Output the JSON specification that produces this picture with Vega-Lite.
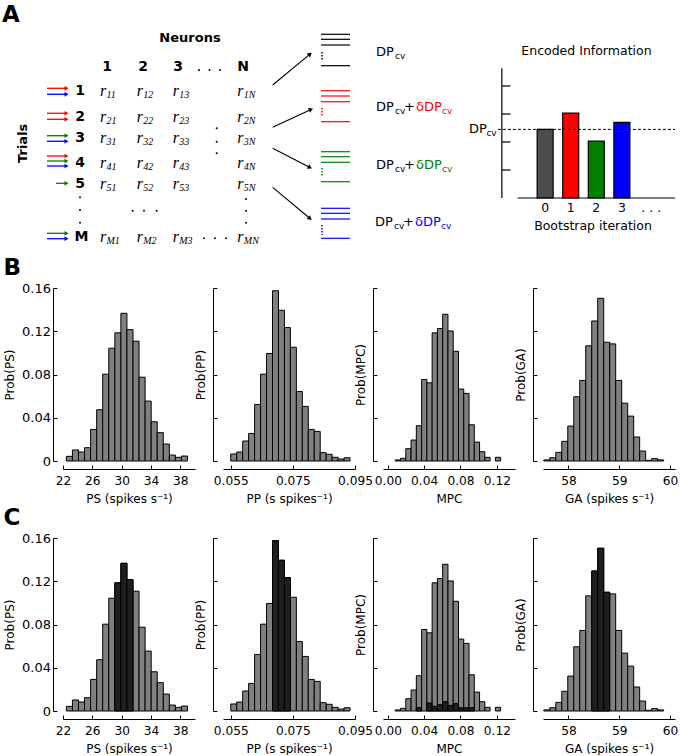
{
"$schema": "https://vega.github.io/schema/vega-lite/v6.json",
"padding": {"left": 2, "top": 0, "right": 0, "bottom": 0},
"background": "white",
"config": {
  "font": "DejaVu Sans",
  "view": {"stroke": null},
  "axis": {"grid": false, "domainColor": "black", "tickColor": "black", "labelColor": "black", "titleColor": "black", "labelFontSize": 13, "titleFontSize": 12, "titleFontWeight": "normal", "tickSize": -4, "domainWidth": 1, "tickWidth": 1, "labelFont": "DejaVu Sans", "titleFont": "DejaVu Sans", "labelFlush": false, "labelOverlap": false},
  "axisX": {"offset": 8, "labelPadding": 9, "titlePadding": 7, "labelFontSize": 12.2},
  "axisY": {"offset": 10, "labelPadding": 6.5, "titlePadding": 5},
  "title": {"font": "DejaVu Sans", "color": "black"}
},
"datasets": {
  "heads": [{"t":"1","x":107,"y":67},{"t":"2","x":143,"y":67},{"t":"3","x":178,"y":67},{"t":"N","x":243,"y":67},{"t":"1","x":80,"y":90.7},{"t":"2","x":80,"y":116.7},{"t":"3","x":80,"y":138.3},{"t":"4","x":80,"y":162.7},{"t":"5","x":80,"y":184},{"t":"M","x":81.5,"y":237.3}],
  "dots": [{"x":199,"y":70},{"x":209.5,"y":70},{"x":220,"y":70},{"x":80,"y":197.3},{"x":80,"y":210},{"x":80,"y":222.7},{"x":246,"y":199},{"x":246,"y":210.7},{"x":246,"y":222.7},{"x":216.7,"y":128.3},{"x":216.7,"y":141.7},{"x":216.7,"y":153.3},{"x":132.7,"y":210.7},{"x":144,"y":210.7},{"x":156.7,"y":210.7},{"x":204,"y":238.3},{"x":215,"y":238.3},{"x":226,"y":238.3}],
  "cells": [
    {"x":100,"y":90.7,"s":"11"},{"x":136.7,"y":90.7,"s":"12"},{"x":172.7,"y":90.7,"s":"13"},{"x":237.3,"y":90.7,"s":"1N"},
    {"x":100,"y":116.7,"s":"21"},{"x":136.7,"y":116.7,"s":"22"},{"x":172.7,"y":116.7,"s":"23"},{"x":237.3,"y":116.7,"s":"2N"},
    {"x":100,"y":138.3,"s":"31"},{"x":136.7,"y":138.3,"s":"32"},{"x":172.7,"y":138.3,"s":"33"},{"x":237.3,"y":138.3,"s":"3N"},
    {"x":100,"y":162.7,"s":"41"},{"x":136.7,"y":162.7,"s":"42"},{"x":172.7,"y":162.7,"s":"43"},{"x":237.3,"y":162.7,"s":"4N"},
    {"x":100,"y":184,"s":"51"},{"x":136.7,"y":184,"s":"52"},{"x":172.7,"y":184,"s":"53"},{"x":237.3,"y":184,"s":"5N"},
    {"x":100,"y":237.3,"s":"M1"},{"x":136.7,"y":237.3,"s":"M2"},{"x":172.7,"y":237.3,"s":"M3"},{"x":237.3,"y":237.3,"s":"MN"}
  ],
  "tarrows": [{"x":47,"x2":66.5,"y":88.3,"g":"r"},{"x":47,"x2":66.5,"y":94.3,"g":"b"},{"x":47,"x2":66.5,"y":113.3,"g":"r"},{"x":47,"x2":66.5,"y":119.3,"g":"r"},{"x":47,"x2":66.5,"y":135.7,"g":"g"},{"x":47,"x2":66.5,"y":141.3,"g":"b"},{"x":47,"x2":66.5,"y":156,"g":"r"},{"x":47,"x2":66.5,"y":161,"g":"g"},{"x":47,"x2":66.5,"y":166,"g":"b"},{"x":56,"x2":66.5,"y":183.3,"g":"g"},{"x":47,"x2":66.5,"y":233.3,"g":"g"},{"x":47,"x2":66.5,"y":238.7,"g":"b"}],
  "darrows": [{"x":272.7,"y":85,"x2":310,"y2":54.1,"a":-39.6},{"x":272.7,"y":127.3,"x2":311,"y2":109.4,"a":-25},{"x":272.7,"y":148.3,"x2":310,"y2":167.4,"a":27},{"x":272.7,"y":187.3,"x2":310,"y2":218.5,"a":40}],
  "hlines": [{"x":321,"x2":350,"y":34.3,"g":"k"},{"x":321,"x2":350,"y":39.3,"g":"k"},{"x":321,"x2":350,"y":45,"g":"k"},{"x":321,"x2":350,"y":65.7,"g":"k"},
    {"x":321,"x2":350,"y":90.7,"g":"r"},{"x":321,"x2":350,"y":96,"g":"r"},{"x":321,"x2":350,"y":101.7,"g":"r"},{"x":321,"x2":350,"y":121.7,"g":"r"},
    {"x":321,"x2":350,"y":151.7,"g":"g"},{"x":321,"x2":350,"y":156.7,"g":"g"},{"x":321,"x2":350,"y":162.3,"g":"g"},{"x":321,"x2":350,"y":181.7,"g":"g"},
    {"x":321,"x2":350,"y":208.3,"g":"b"},{"x":321,"x2":350,"y":213.3,"g":"b"},{"x":321,"x2":350,"y":219,"g":"b"},{"x":321,"x2":350,"y":238.3,"g":"b"}],
  "vdots": [{"x":322,"y":52,"y2":60,"g":"k"},{"x":322,"y":108,"y2":117,"g":"r"},{"x":322,"y":168,"y2":177,"g":"g"},{"x":322,"y":225,"y2":235,"g":"b"}],
  "dplab": [{"x":376,"y":51.7,"g":"k"},{"x":376,"y":107.3,"g":"r"},{"x":376,"y":165,"g":"g"},{"x":375,"y":221.7,"g":"b"}],
  "info": [{"it":0,"v":2.45,"g":"dk"},{"it":1,"v":3.03,"g":"r"},{"it":2,"v":2.03,"g":"g"},{"it":3,"v":2.7,"g":"b"}],
  "iaxes": [{"it":-1.692,"it2":-1.692,"v":0,"v2":4.63},{"it":-1.077,"it2":5.077,"v":0,"v2":0},{"it":-1.692,"it2":-1.358,"v":1,"v2":1},{"it":-1.692,"it2":-1.358,"v":2,"v2":2},{"it":-1.692,"it2":-1.358,"v":3,"v2":3},{"it":-1.692,"it2":-1.358,"v":4,"v2":4}],
  "idash": [{"it":-1.846,"it2":5.077,"v":2.45,"v2":2.45}],
  "itext": [{"t":"Encoded Information","it":1.615,"v":5.26},{"t":"Bootstrap iteration","it":1.87,"v":-1.0},{"t":". . .","it":4.15,"v":-0.37},{"t":"0","it":0,"v":-0.37},{"t":"1","it":1,"v":-0.37},{"t":"2","it":2,"v":-0.37},{"t":"3","it":3,"v":-0.37}],
  "ilab": [{"t":"DP","it":-2.973,"v":2.45}],
  "ilabsub": [{"t":"cv","it":-2.296,"v":2.45}],
  "ps": [
    {"lo":22.46,"hi":23.286,"p":0.0043,"d":0},{"lo":23.286,"hi":24.112,"p":0.0102,"d":0},{"lo":24.112,"hi":24.938,"p":0.0083,"d":0},{"lo":24.938,"hi":25.764,"p":0.0123,"d":0},{"lo":25.764,"hi":26.59,"p":0.0292,"d":0},
    {"lo":26.59,"hi":27.416,"p":0.0474,"d":0},{"lo":27.416,"hi":28.242,"p":0.0803,"d":0},{"lo":28.242,"hi":29.068,"p":0.1043,"d":0},{"lo":29.068,"hi":29.894,"p":0.1185,"d":0.1185},{"lo":29.894,"hi":30.72,"p":0.1366,"d":0.1366},
    {"lo":30.72,"hi":31.546,"p":0.1215,"d":0.1215},{"lo":31.546,"hi":32.372,"p":0.1108,"d":0},{"lo":32.372,"hi":33.198,"p":0.0775,"d":0},{"lo":33.198,"hi":34.024,"p":0.0554,"d":0},{"lo":34.024,"hi":34.85,"p":0.0363,"d":0},
    {"lo":34.85,"hi":35.676,"p":0.0262,"d":0},{"lo":35.676,"hi":36.502,"p":0.0157,"d":0},{"lo":36.502,"hi":37.328,"p":0.0055,"d":0},{"lo":37.328,"hi":38.154,"p":0.0034,"d":0},{"lo":38.154,"hi":38.98,"p":0.0046,"d":0}
  ],
  "pp": [
    {"lo":0.055,"hi":0.05692,"p":0.0065,"d":0},{"lo":0.05692,"hi":0.05884,"p":0.0083,"d":0},{"lo":0.05884,"hi":0.06076,"p":0.0185,"d":0},{"lo":0.06076,"hi":0.06268,"p":0.0255,"d":0},{"lo":0.06268,"hi":0.0646,"p":0.0523,"d":0},
    {"lo":0.0646,"hi":0.06652,"p":0.0803,"d":0},{"lo":0.06652,"hi":0.06844,"p":0.0994,"d":0},{"lo":0.06844,"hi":0.07036,"p":0.1575,"d":0.1575},{"lo":0.07036,"hi":0.07228,"p":0.1394,"d":0.1394},{"lo":0.07228,"hi":0.0742,"p":0.1234,"d":0.1234},
    {"lo":0.0742,"hi":0.07612,"p":0.1052,"d":0},{"lo":0.07612,"hi":0.07804,"p":0.0643,"d":0},{"lo":0.07804,"hi":0.07996,"p":0.0505,"d":0},{"lo":0.07996,"hi":0.08188,"p":0.0292,"d":0},{"lo":0.08188,"hi":0.0838,"p":0.0274,"d":0},
    {"lo":0.0838,"hi":0.08572,"p":0.0077,"d":0},{"lo":0.08572,"hi":0.08764,"p":0.0062,"d":0},{"lo":0.08764,"hi":0.08956,"p":0.0034,"d":0},{"lo":0.08956,"hi":0.09148,"p":0.0018,"d":0},{"lo":0.09148,"hi":0.0934,"p":0.003,"d":0}
  ],
  "mpc": [
    {"lo":0.0082,"hi":0.014,"p":0.001,"d":0},{"lo":0.014,"hi":0.0198,"p":0.0025,"d":0},{"lo":0.0198,"hi":0.0256,"p":0.0114,"d":0},{"lo":0.0256,"hi":0.0314,"p":0.0194,"d":0},{"lo":0.0314,"hi":0.0372,"p":0.0326,"d":0.003},
    {"lo":0.0372,"hi":0.043,"p":0.0754,"d":0},{"lo":0.043,"hi":0.0488,"p":0.0723,"d":0.0074},{"lo":0.0488,"hi":0.0546,"p":0.1185,"d":0.0043},{"lo":0.0546,"hi":0.0604,"p":0.1225,"d":0.0058},{"lo":0.0604,"hi":0.0662,"p":0.1357,"d":0.0086},
    {"lo":0.0662,"hi":0.072,"p":0.1203,"d":0.0052},{"lo":0.072,"hi":0.0778,"p":0.1015,"d":0.007},{"lo":0.0778,"hi":0.0836,"p":0.0665,"d":0.003},{"lo":0.0836,"hi":0.0894,"p":0.0625,"d":0.003},{"lo":0.0894,"hi":0.0952,"p":0.0335,"d":0.003},
    {"lo":0.0952,"hi":0.101,"p":0.0175,"d":0},{"lo":0.101,"hi":0.1068,"p":0.0086,"d":0},{"lo":0.1068,"hi":0.1126,"p":0.0034,"d":0},{"lo":0.1184,"hi":0.1242,"p":0.0034,"d":0}
  ],
  "ga": [
    {"lo":57.516,"hi":57.634,"p":0.001,"d":0},{"lo":57.634,"hi":57.752,"p":0.003,"d":0},{"lo":57.752,"hi":57.87,"p":0.008,"d":0},{"lo":57.87,"hi":57.988,"p":0.0182,"d":0},{"lo":57.988,"hi":58.106,"p":0.0323,"d":0},
    {"lo":58.106,"hi":58.224,"p":0.0594,"d":0},{"lo":58.224,"hi":58.342,"p":0.0745,"d":0},{"lo":58.342,"hi":58.46,"p":0.1065,"d":0},{"lo":58.46,"hi":58.578,"p":0.1295,"d":0.1295},{"lo":58.578,"hi":58.696,"p":0.1505,"d":0.1505},
    {"lo":58.696,"hi":58.814,"p":0.1098,"d":0.1098},{"lo":58.814,"hi":58.932,"p":0.1083,"d":0},{"lo":58.932,"hi":59.05,"p":0.0745,"d":0},{"lo":59.05,"hi":59.168,"p":0.0535,"d":0},{"lo":59.168,"hi":59.286,"p":0.0415,"d":0},
    {"lo":59.286,"hi":59.404,"p":0.0222,"d":0},{"lo":59.404,"hi":59.522,"p":0.0092,"d":0},{"lo":59.522,"hi":59.64,"p":0.0006,"d":0},{"lo":59.64,"hi":59.758,"p":0.0022,"d":0},{"lo":59.758,"hi":59.876,"p":0.001,"d":0}
  ]
},
"columns": 1,
"spacing": 2,
"concat": [
  {
    "width": 617, "height": 255,
    "resolve": {"scale": {"x": "independent", "y": "independent"}},
    "layer": [
      {
        "encoding": {
          "x": {"field": "x", "type": "quantitative", "scale": {"domain": [63, 680], "nice": false, "zero": false}, "axis": null},
          "y": {"field": "y", "type": "quantitative", "scale": {"domain": [0, 255], "nice": false, "reverse": true}, "axis": null}
        },
        "layer": [
          {"data": {"values": [{"t": "A", "x": 2, "y": 21.7}]}, "mark": {"type": "text", "fontSize": 23, "fontWeight": "bold", "align": "left", "baseline": "alphabetic"}, "encoding": {"text": {"field": "t"}}},
          {"data": {"values": [{"t": "Neurons", "x": 190, "y": 38}]}, "mark": {"type": "text", "fontSize": 13, "fontWeight": "bold", "align": "center", "baseline": "middle"}, "encoding": {"text": {"field": "t"}}},
          {"data": {"values": [{"t": "Trials", "x": 23, "y": 143.3}]}, "mark": {"type": "text", "fontSize": 13, "fontWeight": "bold", "align": "center", "baseline": "middle", "angle": 270}, "encoding": {"text": {"field": "t"}}},
          {"data": {"name": "heads"}, "mark": {"type": "text", "fontSize": 14, "fontWeight": "bold", "align": "center", "baseline": "middle"}, "encoding": {"text": {"field": "t"}}},
          {"data": {"name": "dots"}, "mark": {"type": "point", "shape": "circle", "filled": true, "size": 4, "color": "black", "opacity": 1}},
          {"data": {"name": "cells"}, "mark": {"type": "text", "font": "Liberation Serif", "fontStyle": "italic", "fontSize": 16, "align": "left", "baseline": "middle"}, "encoding": {"text": {"value": "r"}}},
          {"data": {"name": "cells"}, "mark": {"type": "text", "font": "Liberation Serif", "fontStyle": "italic", "fontSize": 10, "align": "left", "baseline": "middle", "dx": 6.5, "dy": 4}, "encoding": {"text": {"field": "s"}}},
          {"data": {"name": "tarrows"}, "mark": {"type": "rule", "strokeWidth": 1.3}, "encoding": {"x2": {"field": "x2"}, "color": {"field": "g", "type": "nominal", "scale": {"domain": ["k", "r", "g", "b", "dk"], "range": ["#000000", "#ff0000", "#008000", "#0000ff", "#4d4d4d"]}, "legend": null}}},
          {"data": {"name": "tarrows"}, "mark": {"type": "point", "shape": "triangle-right", "filled": true, "size": 22, "opacity": 1}, "encoding": {"x": {"field": "x2", "type": "quantitative"}, "color": {"field": "g", "type": "nominal", "scale": {"domain": ["k", "r", "g", "b", "dk"], "range": ["#000000", "#ff0000", "#008000", "#0000ff", "#4d4d4d"]}, "legend": null}}},
          {"data": {"name": "darrows"}, "mark": {"type": "rule", "strokeWidth": 1.1, "color": "black"}, "encoding": {"x2": {"field": "x2"}, "y2": {"field": "y2"}}},
          {"data": {"name": "darrows"}, "mark": {"type": "point", "shape": "triangle-right", "filled": true, "size": 26, "color": "black", "opacity": 1}, "encoding": {"x": {"field": "x2", "type": "quantitative"}, "y": {"field": "y2", "type": "quantitative"}, "angle": {"field": "a", "type": "quantitative", "scale": null}}},
          {"data": {"name": "hlines"}, "mark": {"type": "rule", "strokeWidth": 1.2}, "encoding": {"x2": {"field": "x2"}, "color": {"field": "g", "type": "nominal", "scale": {"domain": ["k", "r", "g", "b", "dk"], "range": ["#000000", "#ff0000", "#008000", "#0000ff", "#4d4d4d"]}, "legend": null}}},
          {"data": {"name": "vdots"}, "mark": {"type": "rule", "strokeWidth": 1.5, "strokeDash": [1.5, 1.5]}, "encoding": {"y2": {"field": "y2"}, "color": {"field": "g", "type": "nominal", "scale": {"domain": ["k", "r", "g", "b", "dk"], "range": ["#000000", "#ff0000", "#008000", "#0000ff", "#4d4d4d"]}, "legend": null}}},
          {"data": {"name": "dplab"}, "mark": {"type": "text", "fontSize": 13, "align": "left", "baseline": "middle", "color": "black"}, "encoding": {"text": {"value": "DP"}}},
          {"data": {"name": "dplab"}, "mark": {"type": "text", "fontSize": 9, "align": "left", "baseline": "middle", "dx": 19, "dy": 4, "color": "black"}, "encoding": {"text": {"value": "cv"}}},
          {"data": {"name": "dplab"}, "transform": [{"filter": "datum.g != 'k'"}], "mark": {"type": "text", "fontSize": 13, "align": "left", "baseline": "middle", "dx": 28, "color": "black"}, "encoding": {"text": {"value": "+"}}},
          {"data": {"name": "dplab"}, "transform": [{"filter": "datum.g != 'k'"}], "mark": {"type": "text", "fontSize": 13, "align": "left", "baseline": "middle", "dx": 40}, "encoding": {"text": {"value": "δDP"}, "color": {"field": "g", "type": "nominal", "scale": {"domain": ["k", "r", "g", "b", "dk"], "range": ["#000000", "#ff0000", "#008000", "#0000ff", "#4d4d4d"]}, "legend": null}}},
          {"data": {"name": "dplab"}, "transform": [{"filter": "datum.g != 'k'"}], "mark": {"type": "text", "fontSize": 9, "align": "left", "baseline": "middle", "dx": 66, "dy": 4}, "encoding": {"text": {"value": "cv"}, "color": {"field": "g", "type": "nominal", "scale": {"domain": ["k", "r", "g", "b", "dk"], "range": ["#000000", "#ff0000", "#008000", "#0000ff", "#4d4d4d"]}, "legend": null}}}
        ]
      },
      {
        "encoding": {
          "x": {"field": "it", "type": "quantitative", "scale": {"domain": [-18.654, 5.077], "nice": false}, "axis": null},
          "y": {"field": "v", "type": "quantitative", "scale": {"domain": [-2.036, 7.071], "nice": false}, "axis": null}
        },
        "layer": [
          {"data": {"name": "info"}, "mark": {"type": "bar", "width": 16, "stroke": "black", "strokeWidth": 1.2}, "encoding": {"y2": {"datum": 0}, "color": {"field": "g", "type": "nominal", "scale": {"domain": ["k", "r", "g", "b", "dk"], "range": ["#000000", "#ff0000", "#008000", "#0000ff", "#4d4d4d"]}, "legend": null}}},
          {"data": {"name": "iaxes"}, "mark": {"type": "rule", "color": "black", "strokeWidth": 1.2}, "encoding": {"x2": {"field": "it2"}, "y2": {"field": "v2"}}},
          {"data": {"name": "idash"}, "mark": {"type": "rule", "color": "black", "strokeWidth": 1, "strokeDash": [3, 2]}, "encoding": {"x2": {"field": "it2"}, "y2": {"field": "v2"}}},
          {"data": {"name": "itext"}, "mark": {"type": "text", "fontSize": 12.5, "align": "center", "baseline": "middle", "color": "black"}, "encoding": {"text": {"field": "t"}}},
          {"data": {"name": "ilab"}, "mark": {"type": "text", "fontSize": 13, "align": "left", "baseline": "middle", "color": "black"}, "encoding": {"text": {"field": "t"}}},
          {"data": {"name": "ilabsub"}, "mark": {"type": "text", "fontSize": 9, "align": "left", "baseline": "middle", "dy": 4, "color": "black"}, "encoding": {"text": {"field": "t"}}}
        ]
      }
    ]
  },
  {
    "title": {"text": "B", "anchor": "start", "fontSize": 23, "fontWeight": "bold", "offset": 2, "frame": "bounds"},
    "bounds": "flush",
    "spacing": 28,
    "hconcat": [
      {"width": 132, "height": 173, "data": {"name": "ps"}, "mark": {"type": "bar", "fill": "#808080", "stroke": "black", "strokeWidth": 1},
       "encoding": {"x": {"field": "lo", "type": "quantitative", "scale": {"domain": [22, 40], "nice": false}, "axis": {"title": "PS (spikes s⁻¹)", "values": [22, 26, 30, 34, 38], "format": "d"}}, "x2": {"field": "hi"},
         "y": {"field": "p", "type": "quantitative", "scale": {"domain": [0, 0.16], "nice": false}, "axis": {"title": "Prob(PS)", "values": [0, 0.04, 0.08, 0.12, 0.16], "labelExpr": "datum.value == 0 ? '0' : format(datum.value, '.2f')"}}, "y2": {"datum": 0}}},
      {"width": 132, "height": 173, "data": {"name": "pp"}, "mark": {"type": "bar", "fill": "#808080", "stroke": "black", "strokeWidth": 1},
       "encoding": {"x": {"field": "lo", "type": "quantitative", "scale": {"domain": [0.0525, 0.095], "nice": false}, "axis": {"title": "PP (s spikes⁻¹)", "values": [0.055, 0.075, 0.095], "format": ".3f"}}, "x2": {"field": "hi"},
         "y": {"field": "p", "type": "quantitative", "scale": {"domain": [0, 0.16], "nice": false}, "axis": {"title": "Prob(PP)", "values": [0, 0.04, 0.08, 0.12, 0.16], "labels": false}}, "y2": {"datum": 0}}},
      {"width": 132, "height": 173, "data": {"name": "mpc"}, "mark": {"type": "bar", "fill": "#808080", "stroke": "black", "strokeWidth": 1},
       "encoding": {"x": {"field": "lo", "type": "quantitative", "scale": {"domain": [-0.0053, 0.14], "nice": false}, "axis": {"title": "MPC", "values": [0, 0.04, 0.08, 0.12], "format": ".2f"}}, "x2": {"field": "hi"},
         "y": {"field": "p", "type": "quantitative", "scale": {"domain": [0, 0.16], "nice": false}, "axis": {"title": "Prob(MPC)", "values": [0, 0.04, 0.08, 0.12, 0.16], "labels": false}}, "y2": {"datum": 0}}},
      {"width": 132, "height": 173, "data": {"name": "ga"}, "mark": {"type": "bar", "fill": "#808080", "stroke": "black", "strokeWidth": 1},
       "encoding": {"x": {"field": "lo", "type": "quantitative", "scale": {"domain": [57.5, 60.1], "nice": false}, "axis": {"title": "GA (spikes s⁻¹)", "values": [58, 59, 60], "format": "d"}}, "x2": {"field": "hi"},
         "y": {"field": "p", "type": "quantitative", "scale": {"domain": [0, 0.16], "nice": false}, "axis": {"title": "Prob(GA)", "values": [0, 0.04, 0.08, 0.12, 0.16], "labels": false}}, "y2": {"datum": 0}}}
    ]
  },
  {
    "title": {"text": "C", "anchor": "start", "fontSize": 23, "fontWeight": "bold", "offset": 2, "frame": "bounds"},
    "bounds": "flush",
    "spacing": 28,
    "hconcat": [
      {"width": 132, "height": 173, "data": {"name": "ps"},
       "encoding": {"x": {"field": "lo", "type": "quantitative", "scale": {"domain": [22, 40], "nice": false}, "axis": {"title": "PS (spikes s⁻¹)", "values": [22, 26, 30, 34, 38], "format": "d"}}, "x2": {"field": "hi"}, "y2": {"datum": 0}},
       "layer": [
         {"mark": {"type": "bar", "fill": "#808080", "stroke": "black", "strokeWidth": 1}, "encoding": {"y": {"field": "p", "type": "quantitative", "scale": {"domain": [0, 0.16], "nice": false}, "axis": {"title": "Prob(PS)", "values": [0, 0.04, 0.08, 0.12, 0.16], "labelExpr": "datum.value == 0 ? '0' : format(datum.value, '.2f')"}}}},
         {"transform": [{"filter": "datum.d > 0"}], "mark": {"type": "bar", "fill": "#1f1f1f", "stroke": "black", "strokeWidth": 1}, "encoding": {"y": {"field": "d", "type": "quantitative", "axis": {"title": "Prob(PS)", "values": [0, 0.04, 0.08, 0.12, 0.16], "labelExpr": "datum.value == 0 ? '0' : format(datum.value, '.2f')"}}}}
       ]},
      {"width": 132, "height": 173, "data": {"name": "pp"},
       "encoding": {"x": {"field": "lo", "type": "quantitative", "scale": {"domain": [0.0525, 0.095], "nice": false}, "axis": {"title": "PP (s spikes⁻¹)", "values": [0.055, 0.075, 0.095], "format": ".3f"}}, "x2": {"field": "hi"}, "y2": {"datum": 0}},
       "layer": [
         {"mark": {"type": "bar", "fill": "#808080", "stroke": "black", "strokeWidth": 1}, "encoding": {"y": {"field": "p", "type": "quantitative", "scale": {"domain": [0, 0.16], "nice": false}, "axis": {"title": "Prob(PP)", "values": [0, 0.04, 0.08, 0.12, 0.16], "labels": false}}}},
         {"transform": [{"filter": "datum.d > 0"}], "mark": {"type": "bar", "fill": "#1f1f1f", "stroke": "black", "strokeWidth": 1}, "encoding": {"y": {"field": "d", "type": "quantitative", "axis": {"title": "Prob(PP)", "values": [0, 0.04, 0.08, 0.12, 0.16], "labels": false}}}}
       ]},
      {"width": 132, "height": 173, "data": {"name": "mpc"},
       "encoding": {"x": {"field": "lo", "type": "quantitative", "scale": {"domain": [-0.0053, 0.14], "nice": false}, "axis": {"title": "MPC", "values": [0, 0.04, 0.08, 0.12], "format": ".2f"}}, "x2": {"field": "hi"}, "y2": {"datum": 0}},
       "layer": [
         {"mark": {"type": "bar", "fill": "#808080", "stroke": "black", "strokeWidth": 1}, "encoding": {"y": {"field": "p", "type": "quantitative", "scale": {"domain": [0, 0.16], "nice": false}, "axis": {"title": "Prob(MPC)", "values": [0, 0.04, 0.08, 0.12, 0.16], "labels": false}}}},
         {"transform": [{"filter": "datum.d > 0"}], "mark": {"type": "bar", "fill": "#1f1f1f", "stroke": "black", "strokeWidth": 1}, "encoding": {"y": {"field": "d", "type": "quantitative", "axis": {"title": "Prob(MPC)", "values": [0, 0.04, 0.08, 0.12, 0.16], "labels": false}}}}
       ]},
      {"width": 132, "height": 173, "data": {"name": "ga"},
       "encoding": {"x": {"field": "lo", "type": "quantitative", "scale": {"domain": [57.5, 60.1], "nice": false}, "axis": {"title": "GA (spikes s⁻¹)", "values": [58, 59, 60], "format": "d"}}, "x2": {"field": "hi"}, "y2": {"datum": 0}},
       "layer": [
         {"mark": {"type": "bar", "fill": "#808080", "stroke": "black", "strokeWidth": 1}, "encoding": {"y": {"field": "p", "type": "quantitative", "scale": {"domain": [0, 0.16], "nice": false}, "axis": {"title": "Prob(GA)", "values": [0, 0.04, 0.08, 0.12, 0.16], "labels": false}}}},
         {"transform": [{"filter": "datum.d > 0"}], "mark": {"type": "bar", "fill": "#1f1f1f", "stroke": "black", "strokeWidth": 1}, "encoding": {"y": {"field": "d", "type": "quantitative", "axis": {"title": "Prob(GA)", "values": [0, 0.04, 0.08, 0.12, 0.16], "labels": false}}}}
       ]}
    ]
  }
]
}
